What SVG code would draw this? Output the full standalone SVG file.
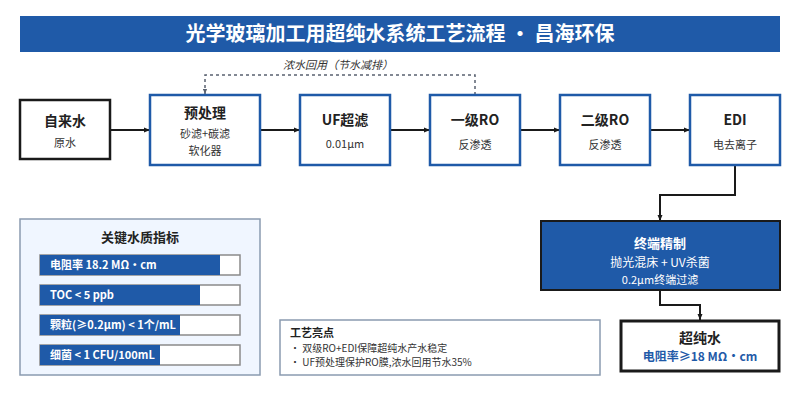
<svg xmlns="http://www.w3.org/2000/svg" width="800" height="400" viewBox="0 0 800 400">
<defs>
<marker id="ah" viewBox="0 0 6 6" refX="6" refY="3" markerWidth="6" markerHeight="6" orient="auto" markerUnits="userSpaceOnUse">
<path d="M0,0.5 L6,3 L0,5.5 z" fill="#1a1a1a"/>
</marker>
<marker id="ahg" viewBox="0 0 6 6" refX="6" refY="3" markerWidth="5" markerHeight="5" orient="auto" markerUnits="userSpaceOnUse">
<path d="M0,0.5 L6,3 L0,5.5 z" fill="#5a6270"/>
</marker>
<style>
text{font-family:"Noto Sans CJK SC","Noto Sans",sans-serif;}
.node{fill:#fff;stroke:#1f5aa8;stroke-width:2.5;}
.nodek{fill:#fff;stroke:#1a1a1a;stroke-width:2.5;}
.t{font-size:14px;font-weight:bold;fill:#222;text-anchor:middle;}
.s{font-size:11px;fill:#333;text-anchor:middle;}
.conn{fill:none;stroke:#1a1a1a;stroke-width:2;marker-end:url(#ah);}
.dash{fill:none;stroke:#5a6270;stroke-width:1.5;stroke-dasharray:3 3;marker-end:url(#ahg);}
.bar{fill:#fff;stroke:#8a8a8a;stroke-width:1.5;}
.barf{fill:#1f5aa8;}
.bt{font-size:11px;font-weight:bold;fill:#fff;}
</style>
</defs>
<rect width="800" height="400" fill="#fff"/>
<g id="title">
<rect x="20" y="16" width="760" height="36" fill="#1f5aa8"/>
<text x="400" y="41" text-anchor="middle" font-size="20" font-weight="bold" fill="#fff">光学玻璃加工用超纯水系统工艺流程 · 昌海环保</text>
</g>
<g id="connectors">
<line class="conn" x1="111" y1="130" x2="150" y2="130"/>
<line class="conn" x1="261" y1="130" x2="300" y2="130"/>
<line class="conn" x1="391" y1="130" x2="430" y2="130"/>
<line class="conn" x1="521" y1="130" x2="560" y2="130"/>
<line class="conn" x1="651" y1="130" x2="690" y2="130"/>
<polyline class="conn" points="735,166 735,195 660,195 660,221"/>
<polyline class="conn" points="660,291 660,305 700,305 700,320"/>
<polyline class="dash" points="475,95 475,75 205,75 205,94"/>
<text x="338" y="69" text-anchor="middle" font-size="11" font-style="italic" fill="#333">浓水回用（节水减排）</text>
</g>
<g id="n-tap">
<rect class="nodek" x="20" y="100" width="90" height="59"/>
<text class="t" x="65" y="126">自来水</text>
<text class="s" x="65" y="147">原水</text>
</g>
<g id="n-pre">
<rect class="node" x="150" y="95" width="110" height="70"/>
<text class="t" x="205" y="118">预处理</text>
<text class="s" x="205" y="138">砂滤+碳滤</text>
<text class="s" x="205" y="155">软化器</text>
</g>
<g id="n-uf">
<rect class="node" x="300" y="95" width="90" height="70"/>
<text class="t" x="345" y="125">UF超滤</text>
<text class="s" x="345" y="148">0.01μm</text>
</g>
<g id="n-ro1">
<rect class="node" x="430" y="95" width="90" height="70"/>
<text class="t" x="475" y="125">一级RO</text>
<text class="s" x="475" y="149">反渗透</text>
</g>
<g id="n-ro2">
<rect class="node" x="560" y="95" width="90" height="70"/>
<text class="t" x="605" y="125">二级RO</text>
<text class="s" x="605" y="149">反渗透</text>
</g>
<g id="n-edi">
<rect class="node" x="690" y="95" width="90" height="70"/>
<text class="t" x="735" y="125">EDI</text>
<text class="s" x="735" y="149">电去离子</text>
</g>
<g id="n-polish">
<rect x="541" y="221" width="239" height="69" fill="#1f5aa8" stroke="#1a1a1a" stroke-width="2"/>
<text x="660" y="248" text-anchor="middle" font-size="13" font-weight="bold" fill="#fff">终端精制</text>
<text x="660" y="267" text-anchor="middle" font-size="12" fill="#fff">抛光混床 + UV杀菌</text>
<text x="660" y="284" text-anchor="middle" font-size="11" fill="#fff">0.2μm终端过滤</text>
</g>
<g id="n-upw">
<rect x="621" y="321" width="158" height="50" fill="#fff" stroke="#1a1a1a" stroke-width="3"/>
<text x="700" y="343" text-anchor="middle" font-size="14" font-weight="bold" fill="#222">超纯水</text>
<text x="700" y="361" text-anchor="middle" font-size="12" font-weight="bold" fill="#1f5aa8">电阻率≥18 MΩ・cm</text>
</g>
<g id="quality">
<rect x="20" y="219" width="240" height="156" fill="#f0f6ff" stroke="#8a9bb0" stroke-width="1.5"/>
<text x="140" y="242" text-anchor="middle" font-size="13" font-weight="bold" fill="#222">关键水质指标</text>
<rect class="bar" x="40" y="255" width="200" height="20"/>
<rect class="barf" x="40" y="255" width="180" height="20"/>
<text class="bt" x="50" y="269">电阻率 18.2 MΩ・cm</text>
<rect class="bar" x="40" y="285" width="200" height="20"/>
<rect class="barf" x="40" y="285" width="160" height="20"/>
<text class="bt" x="50" y="299">TOC &lt; 5 ppb</text>
<rect class="bar" x="40" y="315" width="200" height="20"/>
<rect class="barf" x="40" y="315" width="140" height="20"/>
<text class="bt" x="50" y="329">颗粒(≥0.2μm) &lt; 1个/mL</text>
<rect class="bar" x="40" y="345" width="200" height="20"/>
<rect class="barf" x="40" y="345" width="120" height="20"/>
<text class="bt" x="50" y="359">细菌 &lt; 1 CFU/100mL</text>
</g>
<g id="highlights">
<rect x="280" y="320" width="320" height="55" fill="#fff" stroke="#8a9bb0" stroke-width="1.5"/>
<text x="290" y="337" font-size="11" font-weight="bold" fill="#222">工艺亮点</text>
<text x="290" y="352" font-size="10" fill="#333">・ 双级RO+EDI保障超纯水产水稳定</text>
<text x="290" y="366" font-size="10" fill="#333">・ UF预处理保护RO膜,浓水回用节水35%</text>
</g>
</svg>
